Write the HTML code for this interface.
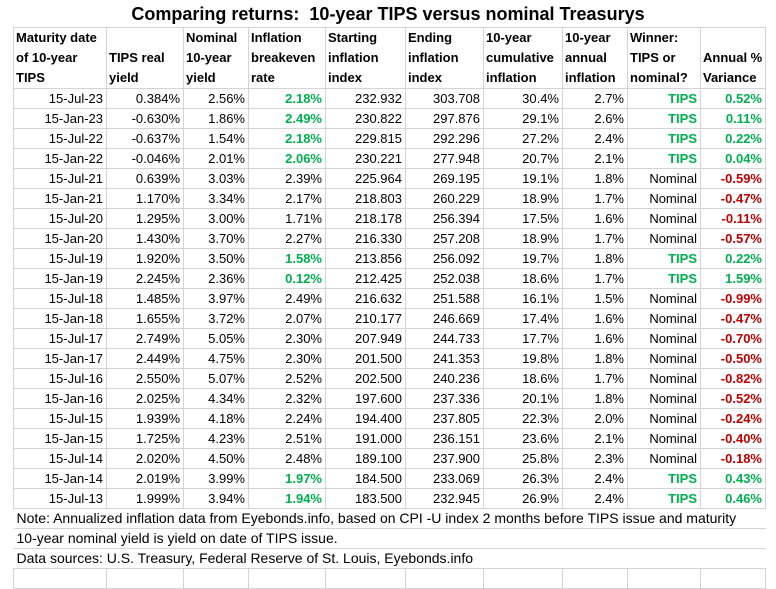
<!DOCTYPE html>
<html><head><style>
body{margin:0;background:#fff;width:776px;height:577px;overflow:hidden;font-family:"Liberation Sans",Arial,sans-serif;}
.title{position:absolute;left:0;top:4px;width:776px;text-align:center;font-weight:bold;font-size:18px;color:#000;}
table{position:absolute;left:13px;top:27px;border-collapse:collapse;table-layout:fixed;font-size:13px;}
td{border:1px solid #d4d4d4;padding:0 3px;height:19px;line-height:19px;white-space:nowrap;text-align:right;overflow:visible}
tr.h td{height:59px;line-height:20px;vertical-align:bottom;text-align:left;font-weight:bold;font-size:13px;padding:0 2px;white-space:normal}
.g{color:#00b050;font-weight:bold}.r{color:#c00000;font-weight:bold}
td.n{text-align:left;font-size:14px;border-left:none;border-right:none}
</style></head><body>
<div class="title">Comparing returns:&nbsp; 10-year TIPS versus nominal Treasurys</div>
<table>
<colgroup><col style="width:93px"><col style="width:77px"><col style="width:65px"><col style="width:77px"><col style="width:80px"><col style="width:78px"><col style="width:79px"><col style="width:65px"><col style="width:73px"><col style="width:65px"></colgroup>
<tr class="h"><td>Maturity date of 10-year TIPS</td><td>TIPS real yield</td><td>Nominal 10-year yield</td><td>Inflation breakeven rate</td><td>Starting inflation index</td><td>Ending inflation index</td><td>10-year cumulative inflation</td><td>10-year annual inflation</td><td>Winner: TIPS or nominal?</td><td>Annual % Variance</td></tr>
<tr><td>15-Jul-23</td><td>0.384%</td><td>2.56%</td><td class="g">2.18%</td><td>232.932</td><td>303.708</td><td>30.4%</td><td>2.7%</td><td class="g">TIPS</td><td class="g">0.52%</td></tr>
<tr><td>15-Jan-23</td><td>-0.630%</td><td>1.86%</td><td class="g">2.49%</td><td>230.822</td><td>297.876</td><td>29.1%</td><td>2.6%</td><td class="g">TIPS</td><td class="g">0.11%</td></tr>
<tr><td>15-Jul-22</td><td>-0.637%</td><td>1.54%</td><td class="g">2.18%</td><td>229.815</td><td>292.296</td><td>27.2%</td><td>2.4%</td><td class="g">TIPS</td><td class="g">0.22%</td></tr>
<tr><td>15-Jan-22</td><td>-0.046%</td><td>2.01%</td><td class="g">2.06%</td><td>230.221</td><td>277.948</td><td>20.7%</td><td>2.1%</td><td class="g">TIPS</td><td class="g">0.04%</td></tr>
<tr><td>15-Jul-21</td><td>0.639%</td><td>3.03%</td><td>2.39%</td><td>225.964</td><td>269.195</td><td>19.1%</td><td>1.8%</td><td>Nominal</td><td class="r">-0.59%</td></tr>
<tr><td>15-Jan-21</td><td>1.170%</td><td>3.34%</td><td>2.17%</td><td>218.803</td><td>260.229</td><td>18.9%</td><td>1.7%</td><td>Nominal</td><td class="r">-0.47%</td></tr>
<tr><td>15-Jul-20</td><td>1.295%</td><td>3.00%</td><td>1.71%</td><td>218.178</td><td>256.394</td><td>17.5%</td><td>1.6%</td><td>Nominal</td><td class="r">-0.11%</td></tr>
<tr><td>15-Jan-20</td><td>1.430%</td><td>3.70%</td><td>2.27%</td><td>216.330</td><td>257.208</td><td>18.9%</td><td>1.7%</td><td>Nominal</td><td class="r">-0.57%</td></tr>
<tr><td>15-Jul-19</td><td>1.920%</td><td>3.50%</td><td class="g">1.58%</td><td>213.856</td><td>256.092</td><td>19.7%</td><td>1.8%</td><td class="g">TIPS</td><td class="g">0.22%</td></tr>
<tr><td>15-Jan-19</td><td>2.245%</td><td>2.36%</td><td class="g">0.12%</td><td>212.425</td><td>252.038</td><td>18.6%</td><td>1.7%</td><td class="g">TIPS</td><td class="g">1.59%</td></tr>
<tr><td>15-Jul-18</td><td>1.485%</td><td>3.97%</td><td>2.49%</td><td>216.632</td><td>251.588</td><td>16.1%</td><td>1.5%</td><td>Nominal</td><td class="r">-0.99%</td></tr>
<tr><td>15-Jan-18</td><td>1.655%</td><td>3.72%</td><td>2.07%</td><td>210.177</td><td>246.669</td><td>17.4%</td><td>1.6%</td><td>Nominal</td><td class="r">-0.47%</td></tr>
<tr><td>15-Jul-17</td><td>2.749%</td><td>5.05%</td><td>2.30%</td><td>207.949</td><td>244.733</td><td>17.7%</td><td>1.6%</td><td>Nominal</td><td class="r">-0.70%</td></tr>
<tr><td>15-Jan-17</td><td>2.449%</td><td>4.75%</td><td>2.30%</td><td>201.500</td><td>241.353</td><td>19.8%</td><td>1.8%</td><td>Nominal</td><td class="r">-0.50%</td></tr>
<tr><td>15-Jul-16</td><td>2.550%</td><td>5.07%</td><td>2.52%</td><td>202.500</td><td>240.236</td><td>18.6%</td><td>1.7%</td><td>Nominal</td><td class="r">-0.82%</td></tr>
<tr><td>15-Jan-16</td><td>2.025%</td><td>4.34%</td><td>2.32%</td><td>197.600</td><td>237.336</td><td>20.1%</td><td>1.8%</td><td>Nominal</td><td class="r">-0.52%</td></tr>
<tr><td>15-Jul-15</td><td>1.939%</td><td>4.18%</td><td>2.24%</td><td>194.400</td><td>237.805</td><td>22.3%</td><td>2.0%</td><td>Nominal</td><td class="r">-0.24%</td></tr>
<tr><td>15-Jan-15</td><td>1.725%</td><td>4.23%</td><td>2.51%</td><td>191.000</td><td>236.151</td><td>23.6%</td><td>2.1%</td><td>Nominal</td><td class="r">-0.40%</td></tr>
<tr><td>15-Jul-14</td><td>2.020%</td><td>4.50%</td><td>2.48%</td><td>189.100</td><td>237.900</td><td>25.8%</td><td>2.3%</td><td>Nominal</td><td class="r">-0.18%</td></tr>
<tr><td>15-Jan-14</td><td>2.019%</td><td>3.99%</td><td class="g">1.97%</td><td>184.500</td><td>233.069</td><td>26.3%</td><td>2.4%</td><td class="g">TIPS</td><td class="g">0.43%</td></tr>
<tr><td>15-Jul-13</td><td>1.999%</td><td>3.94%</td><td class="g">1.94%</td><td>183.500</td><td>232.945</td><td>26.9%</td><td>2.4%</td><td class="g">TIPS</td><td class="g">0.46%</td></tr>
<tr><td class="n" colspan="10">Note: Annualized inflation data from Eyebonds.info, based on CPI -U index 2 months before TIPS issue and maturity</td></tr>
<tr><td class="n" colspan="10">10-year nominal yield is yield on date of TIPS issue.</td></tr>
<tr><td class="n" colspan="10">Data sources: U.S. Treasury, Federal Reserve of St. Louis, Eyebonds.info</td></tr>
<tr><td></td><td></td><td></td><td></td><td></td><td></td><td></td><td></td><td></td><td></td></tr>
</table>
</body></html>
